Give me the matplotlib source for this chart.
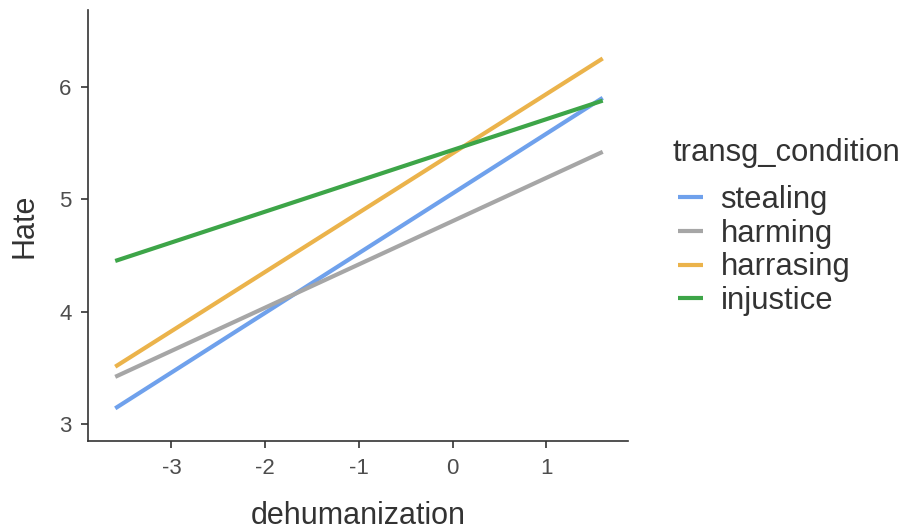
import matplotlib
matplotlib.use("Agg")
import matplotlib.pyplot as plt
import numpy as np

plt.rcParams['font.family'] = ['Liberation Sans', 'DejaVu Sans']
plt.rcParams['axes.unicode_minus'] = False

conditions = ["stealing", "harming", "harrasing", "injustice"]
colors = ["#6FA1EC", "#A6A6A6", "#EBB34B", "#3DA548"]
x_range = [-3.6, 1.6]
y_start = [3.14, 3.42, 3.51, 4.45]
y_end = [5.90, 5.42, 6.25, 5.875]
legend_title = "transg_condition"

W, H = 903, 530
fig = plt.figure(figsize=(W / 100, H / 100), dpi=100)
ax = fig.add_axes([0.0975, 0.168, 0.598, 0.813])

for name, c, y0, y1 in zip(conditions, colors, y_start, y_end):
    ax.plot(x_range, [y0, y1], color=c, lw=3.0, label=name, solid_capstyle='butt')

ax.set_xlim(-3.89, 1.87)
ax.set_ylim(2.85, 6.68)
ax.set_xticks([-3, -2, -1, 0, 1])
ax.set_yticks([3, 4, 5, 6])
for s in ['top', 'right']:
    ax.spines[s].set_visible(False)
for s in ['left', 'bottom']:
    ax.spines[s].set_color('#333333')
    ax.spines[s].set_linewidth(1.2)
ax.tick_params(colors='#333333', labelcolor='#4D4D4D', labelsize=16, length=5, width=1.2, pad=7)
ax.set_xlabel("dehumanization", fontsize=22, color='#333333', labelpad=16)
ax.set_ylabel("Hate", fontsize=22, color='#333333', labelpad=14)

fig.text(673 / W, 1 - 153 / H, legend_title, fontsize=22.3, color='#333333',
         ha='left', va='center')
leg = fig.legend(loc='upper left', bbox_to_anchor=(678 / W, 1 - 185 / H), frameon=False,
                 fontsize=22.3, borderpad=0, borderaxespad=0,
                 handlelength=0.82, handletextpad=0.55, labelspacing=0.12)
for t in leg.get_texts():
    t.set_color('#333333')

fig.savefig("out.png", dpi=100)
